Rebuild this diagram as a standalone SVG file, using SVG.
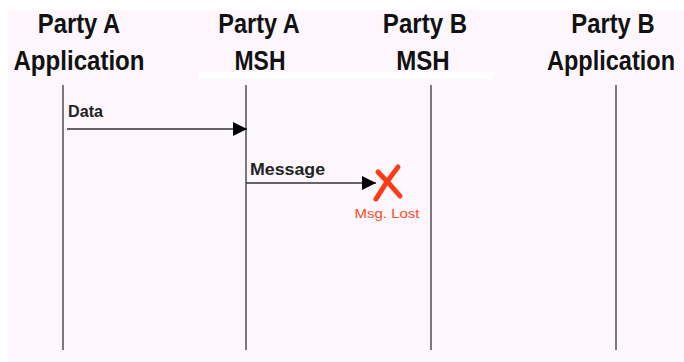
<svg xmlns="http://www.w3.org/2000/svg" width="684" height="362" viewBox="0 0 684 362">
<style>
.hdr{font-family:"Liberation Sans",Arial,sans-serif;font-weight:bold;font-size:28px;fill:#111;text-anchor:middle;}
.lbl{font-family:"Liberation Sans",Arial,sans-serif;font-weight:bold;font-size:16px;fill:#222;}
.life{stroke:#7a7a7a;stroke-width:2;}
.msg{stroke:#333;stroke-width:1.6;fill:none;}
.lost{stroke:#ff3a16;stroke-width:5;stroke-linecap:round;fill:none;}
.lostt{font-family:"Liberation Sans",Arial,sans-serif;font-size:13px;fill:#ff4a26;}
</style>
<defs>
<marker id="ah" viewBox="0 0 10 10" refX="10" refY="5" markerWidth="14" markerHeight="14" markerUnits="userSpaceOnUse" orient="auto">
<path d="M0,0 L10,5 L0,10 z" fill="#000"/>
</marker>
</defs>
<rect x="0" y="0" width="684" height="362" fill="#ffffff"/>
<rect x="8" y="10" width="676" height="352" fill="#fdf7fd"/>
<rect x="199" y="72" width="294" height="7" fill="#ffffff"/>
<g id="partyA-app">
<text class="hdr" transform="translate(79,33) scale(0.85,1)">Party A</text>
<text class="hdr" transform="translate(79,70) scale(0.86,1)">Application</text>
<line class="life" x1="63" y1="85" x2="63" y2="350"/>
</g>
<g id="partyA-msh">
<text class="hdr" transform="translate(259,33) scale(0.84,1)">Party A</text>
<text class="hdr" transform="translate(260,70) scale(0.82,1)">MSH</text>
<line class="life" x1="246" y1="85" x2="246" y2="350"/>
</g>
<g id="partyB-msh">
<text class="hdr" transform="translate(425,33) scale(0.86,1)">Party B</text>
<text class="hdr" transform="translate(423,70) scale(0.86,1)">MSH</text>
<line class="life" x1="431" y1="85" x2="431" y2="350"/>
</g>
<g id="partyB-app">
<text class="hdr" transform="translate(613,33) scale(0.85,1)">Party B</text>
<text class="hdr" transform="translate(611,70) scale(0.84,1)">Application</text>
<line class="life" x1="616" y1="85" x2="616" y2="350"/>
</g>
<g id="connectors">
<line class="msg" x1="67" y1="129" x2="247" y2="129" marker-end="url(#ah)"/>
<text class="lbl" x="68" y="117" textLength="35" lengthAdjust="spacingAndGlyphs">Data</text>
<line class="msg" x1="246" y1="183" x2="376" y2="183" marker-end="url(#ah)"/>
<text class="lbl" x="250" y="175" textLength="75" lengthAdjust="spacingAndGlyphs">Message</text>
</g>
<g id="msg-lost">
<path class="lost" d="M398,167 Q386,182 376,199"/>
<path class="lost" d="M378,172 Q390,184 400,196"/>
<text class="lostt" x="387" y="218" text-anchor="middle" textLength="65" lengthAdjust="spacingAndGlyphs">Msg. Lost</text>
</g>
</svg>
